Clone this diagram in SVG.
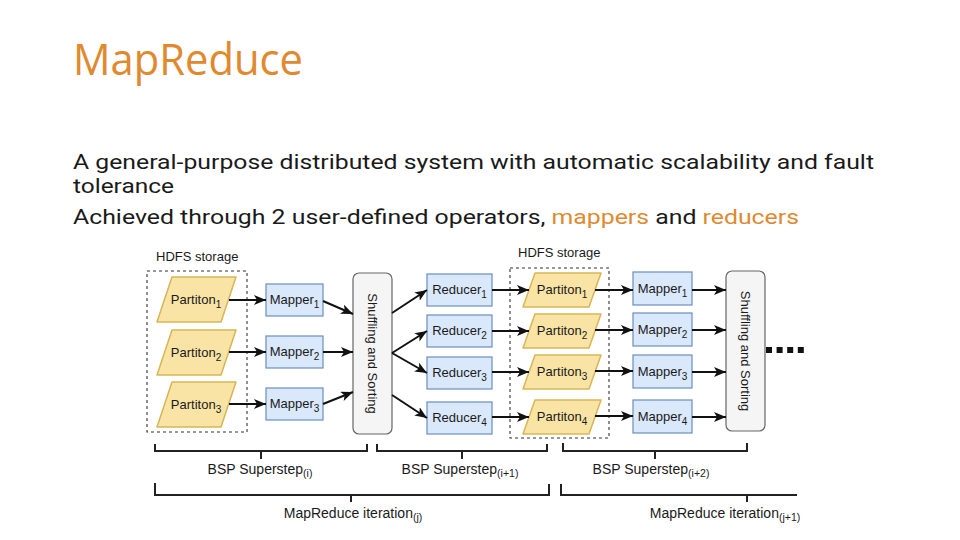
<svg xmlns="http://www.w3.org/2000/svg" width="960" height="540" viewBox="0 0 960 540">
<defs>
<style>
.title{font-family:"Open Sans","Noto Sans",sans-serif;font-size:44px;fill:#e0892f}
.body{font-family:Roboto,"Open Sans",sans-serif;font-size:20px;fill:#1a1a1a}
.hl{fill:#e0892f}
.lbl{font-family:"Liberation Sans",Arial,sans-serif;font-size:13px;fill:#1a1a1a}
.cap{font-family:"Liberation Sans",Arial,sans-serif;font-size:14px;fill:#1a1a1a}
.sub{font-size:10px}
.sub2{font-size:10.5px}
.part{fill:#f9e4a6;stroke:#d6b656;stroke-width:1.5;stroke-linejoin:round}
.blue{fill:#dae8fc;stroke:#6c8ebf;stroke-width:1.2}
.shuf{fill:#f5f5f5;stroke:#666;stroke-width:1.2}
.dash{fill:none;stroke:#333;stroke-width:1.1;stroke-dasharray:3 3}
.conn path{fill:none;stroke:#111;stroke-width:2;marker-end:url(#arr)}
.brace path{fill:none;stroke:#222;stroke-width:2}
</style>
<marker id="arr" markerUnits="userSpaceOnUse" markerWidth="13" markerHeight="11" refX="12" refY="5" orient="auto">
<path d="M0,0 L12,5 L0,10 L3,5 Z" fill="#111"/>
</marker>
</defs>
<rect width="960" height="540" fill="#fff"/>

<text class="title" x="73" y="75" textLength="230" lengthAdjust="spacingAndGlyphs">MapReduce</text>
<text class="body" x="73" y="169" textLength="801" lengthAdjust="spacingAndGlyphs">A general-purpose distributed system with automatic scalability and fault</text>
<text class="body" x="73" y="193" textLength="101" lengthAdjust="spacingAndGlyphs">tolerance</text>
<text class="body" x="73" y="224" textLength="726" lengthAdjust="spacingAndGlyphs">Achieved through 2 user-defined operators, <tspan class="hl">mappers</tspan> and <tspan class="hl">reducers</tspan></text>

<g id="hdfs1">
<rect class="dash" x="147" y="271" width="100" height="161"/>
<text class="lbl" x="156" y="261">HDFS storage</text>
</g>
<g id="hdfs2">
<rect class="dash" x="510" y="268" width="99" height="170"/>
<text class="lbl" x="518" y="257">HDFS storage</text>
</g>

<g id="p1a"><path class="part" d="M172,277 H236 L221,322 H157 Z"/><text class="lbl" x="196" y="304" text-anchor="middle">Partiton<tspan class="sub" dy="4">1</tspan></text></g>
<g id="p2a"><path class="part" d="M172,330 H236 L221,375 H157 Z"/><text class="lbl" x="196" y="357" text-anchor="middle">Partiton<tspan class="sub" dy="4">2</tspan></text></g>
<g id="p3a"><path class="part" d="M172,382 H236 L221,427 H157 Z"/><text class="lbl" x="196" y="409" text-anchor="middle">Partiton<tspan class="sub" dy="4">3</tspan></text></g>

<g id="m1a"><rect class="blue" x="266" y="284" width="57" height="32"/><text class="lbl" x="294.5" y="304" text-anchor="middle">Mapper<tspan class="sub" dy="4">1</tspan></text></g>
<g id="m2a"><rect class="blue" x="266" y="336" width="57" height="32"/><text class="lbl" x="294.5" y="356" text-anchor="middle">Mapper<tspan class="sub" dy="4">2</tspan></text></g>
<g id="m3a"><rect class="blue" x="266" y="388" width="57" height="32"/><text class="lbl" x="294.5" y="408" text-anchor="middle">Mapper<tspan class="sub" dy="4">3</tspan></text></g>

<g id="s1"><rect class="shuf" x="353" y="273" width="39" height="161" rx="6"/><text class="lbl" transform="translate(372.5,353.5) rotate(90)" text-anchor="middle" dominant-baseline="central">Shuffling and Sorting</text></g>

<g id="r1"><rect class="blue" x="427" y="274" width="65" height="32"/><text class="lbl" x="459.5" y="294" text-anchor="middle">Reducer<tspan class="sub" dy="4">1</tspan></text></g>
<g id="r2"><rect class="blue" x="427" y="315" width="65" height="32"/><text class="lbl" x="459.5" y="335" text-anchor="middle">Reducer<tspan class="sub" dy="4">2</tspan></text></g>
<g id="r3"><rect class="blue" x="427" y="357" width="65" height="32"/><text class="lbl" x="459.5" y="377" text-anchor="middle">Reducer<tspan class="sub" dy="4">3</tspan></text></g>
<g id="r4"><rect class="blue" x="427" y="402" width="65" height="32"/><text class="lbl" x="459.5" y="422" text-anchor="middle">Reducer<tspan class="sub" dy="4">4</tspan></text></g>

<g id="p1b"><path class="part" d="M535,273 H601 L589,307 H523 Z"/><text class="lbl" x="562" y="294" text-anchor="middle">Partiton<tspan class="sub" dy="4">1</tspan></text></g>
<g id="p2b"><path class="part" d="M535,314 H601 L589,348 H523 Z"/><text class="lbl" x="562" y="335" text-anchor="middle">Partiton<tspan class="sub" dy="4">2</tspan></text></g>
<g id="p3b"><path class="part" d="M535,355 H601 L589,389 H523 Z"/><text class="lbl" x="562" y="376" text-anchor="middle">Partiton<tspan class="sub" dy="4">3</tspan></text></g>
<g id="p4b"><path class="part" d="M535,400 H601 L589,434 H523 Z"/><text class="lbl" x="562" y="421" text-anchor="middle">Partiton<tspan class="sub" dy="4">4</tspan></text></g>

<g id="m1b"><rect class="blue" x="633" y="272" width="59" height="33"/><text class="lbl" x="662.5" y="292.5" text-anchor="middle">Mapper<tspan class="sub" dy="4">1</tspan></text></g>
<g id="m2b"><rect class="blue" x="633" y="313" width="59" height="33"/><text class="lbl" x="662.5" y="333.5" text-anchor="middle">Mapper<tspan class="sub" dy="4">2</tspan></text></g>
<g id="m3b"><rect class="blue" x="633" y="355" width="59" height="33"/><text class="lbl" x="662.5" y="375.5" text-anchor="middle">Mapper<tspan class="sub" dy="4">3</tspan></text></g>
<g id="m4b"><rect class="blue" x="633" y="400" width="59" height="33"/><text class="lbl" x="662.5" y="420.5" text-anchor="middle">Mapper<tspan class="sub" dy="4">4</tspan></text></g>

<g id="s2"><rect class="shuf" x="726" y="271" width="39" height="160" rx="6"/><text class="lbl" transform="translate(745.5,351) rotate(90)" text-anchor="middle" dominant-baseline="central">Shuffling and Sorting</text></g>

<g id="more"><path d="M766,350 H804" stroke="#111" stroke-width="6" stroke-dasharray="6 4.6" fill="none"/></g>

<g id="connectors" class="conn">
<path d="M229,300 H266"/>
<path d="M229,352 H266"/>
<path d="M229,404 H266"/>
<path d="M323,301 L353,314"/>
<path d="M323,352 H353"/>
<path d="M323,404 L353,392"/>
<path d="M392,313 L427,290"/>
<path d="M392,353 L427,331"/>
<path d="M392,353 L427,373"/>
<path d="M392,395 L427,418"/>
<path d="M492,290 H529"/>
<path d="M492,331 H529"/>
<path d="M492,372 H529"/>
<path d="M492,417 H529"/>
<path d="M595,290 H633"/>
<path d="M595,330 H633"/>
<path d="M595,371 H633"/>
<path d="M595,416 H633"/>
<path d="M692,290 H726"/>
<path d="M692,330 H726"/>
<path d="M692,372 H726"/>
<path d="M692,417 H726"/>
</g>

<g id="braces" class="brace">
<path d="M155,444 V451 H367 V444 M261,451 V459"/>
<path d="M377,444 V451 H547 V444 M462,451 V459"/>
<path d="M563,443 V451 H747 V443 M655,451 V459"/>
<path d="M155,483 V495 H549 V484 M351,495 V502"/>
<path d="M561,484 V495 H797 M747,495 V502"/>
</g>

<g id="captions">
<text class="cap" x="260" y="474" text-anchor="middle">BSP Superstep<tspan class="sub2" dy="3">(i)</tspan></text>
<text class="cap" x="460" y="474" text-anchor="middle">BSP Superstep<tspan class="sub2" dy="3">(i+1)</tspan></text>
<text class="cap" x="651" y="474" text-anchor="middle">BSP Superstep<tspan class="sub2" dy="3">(i+2)</tspan></text>
<text class="cap" x="353" y="518" text-anchor="middle">MapReduce iteration<tspan class="sub2" dy="3">(j)</tspan></text>
<text class="cap" x="725" y="518" text-anchor="middle">MapReduce iteration<tspan class="sub2" dy="3">(j+1)</tspan></text>
</g>
</svg>
